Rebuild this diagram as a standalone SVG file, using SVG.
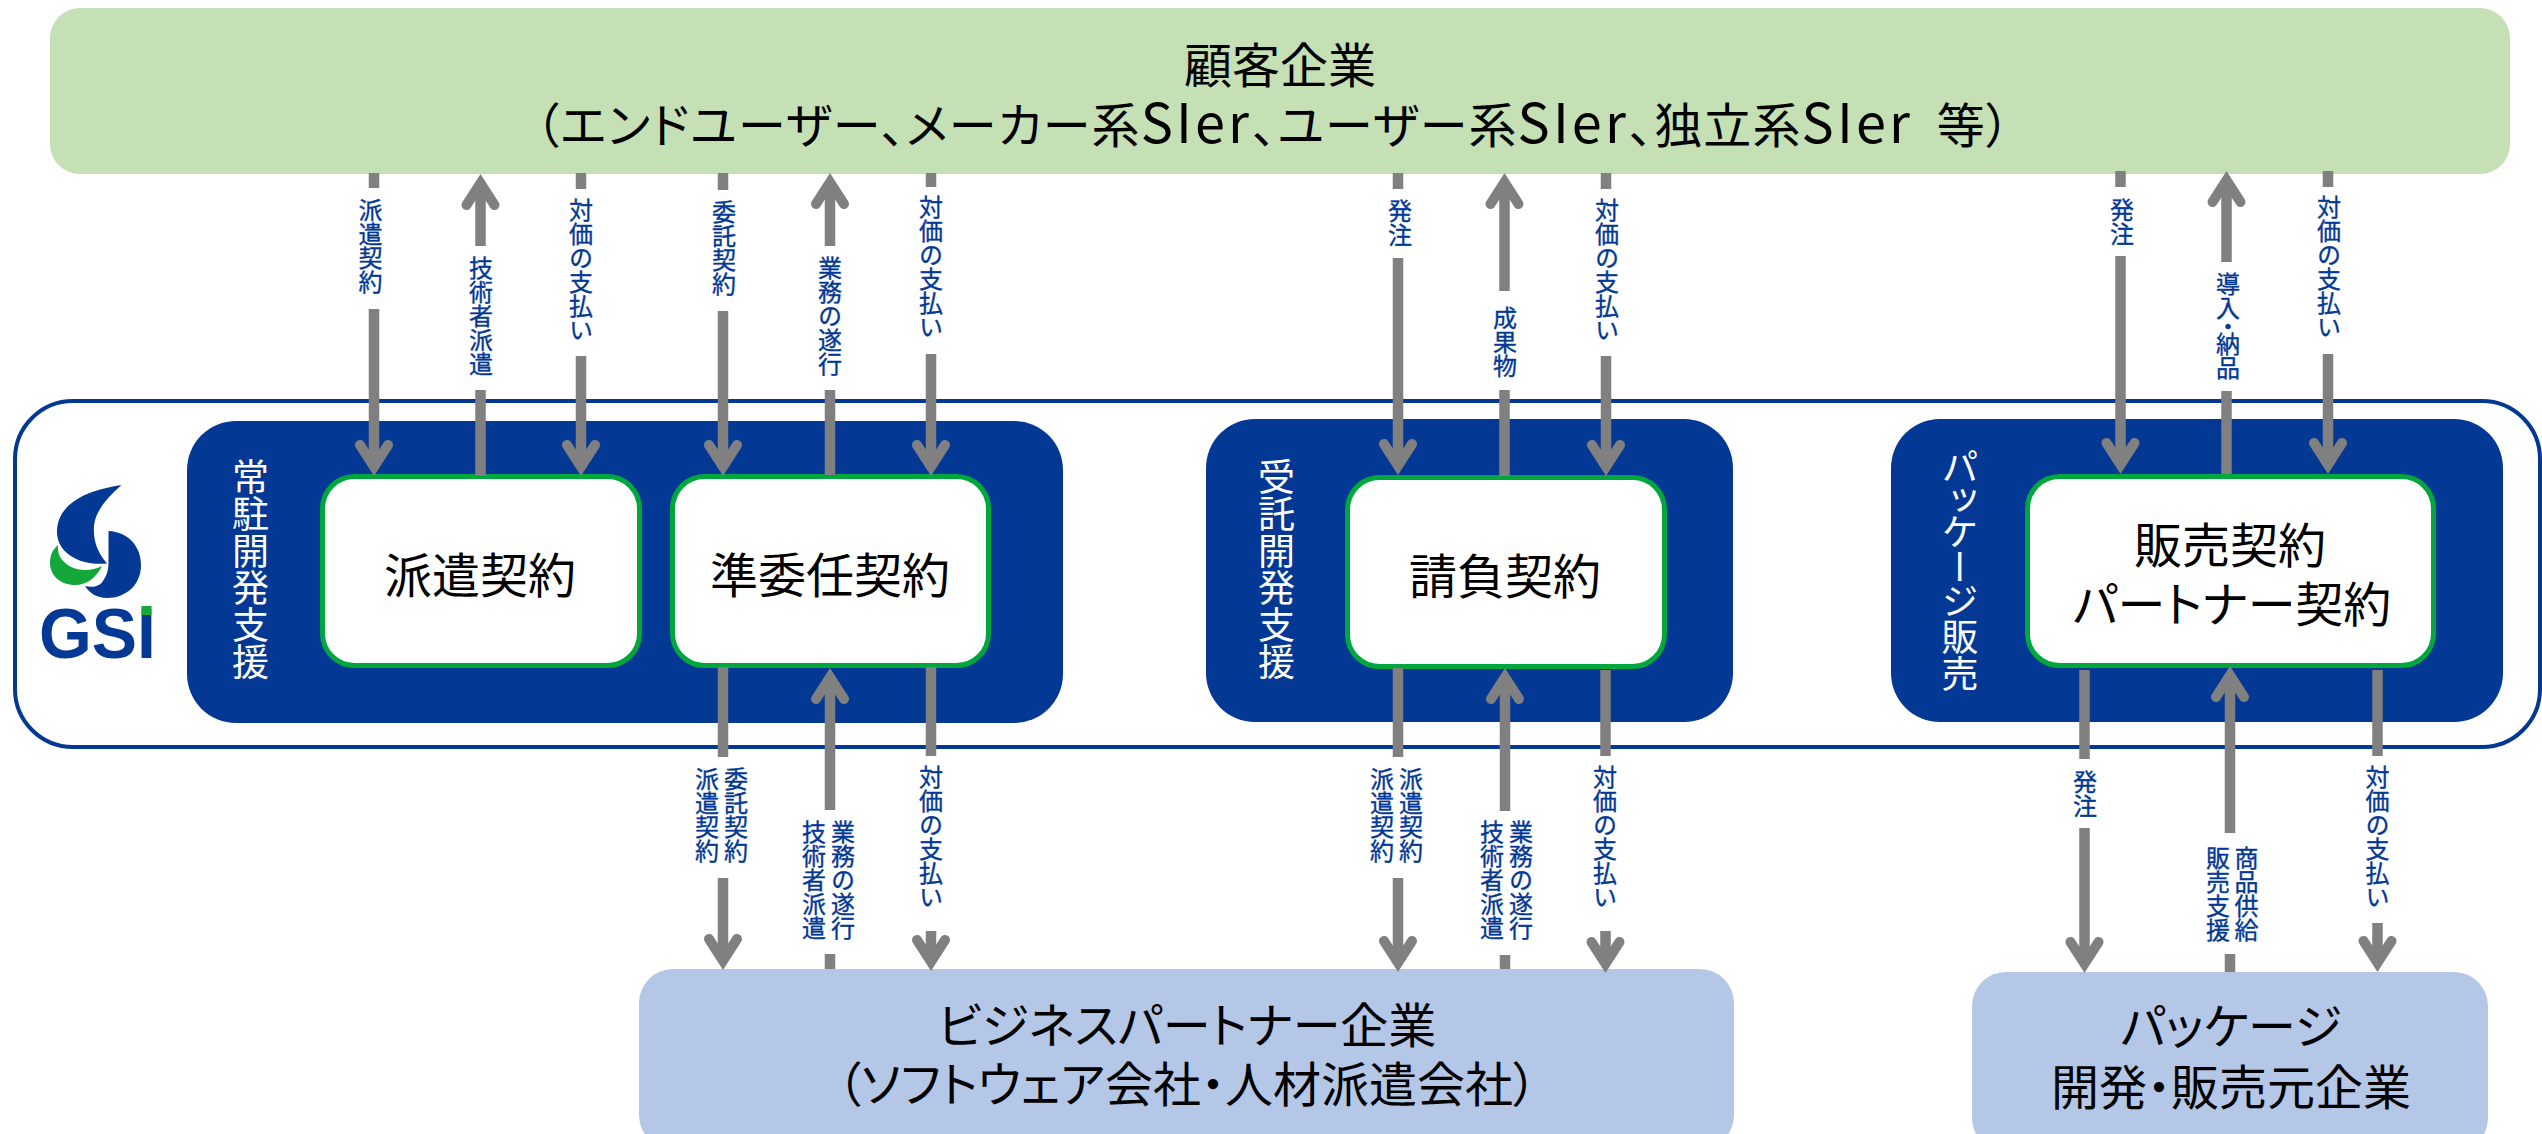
<svg xmlns="http://www.w3.org/2000/svg" width="2542" height="1134" viewBox="0 0 2542 1134">
<style>
text{font-family:"Noto Sans CJK JP","Noto Sans",sans-serif}
.t{font-size:48px;fill:#000;text-anchor:middle;font-feature-settings:"palt"}
.si{font-size:54px;letter-spacing:2px}
.side{font-size:37px;fill:#fff;writing-mode:vertical-rl;text-anchor:middle}
.l{font-size:24px;fill:#033894;stroke:#033894;stroke-width:.35px;writing-mode:vertical-rl;text-anchor:middle}
.vp{font-feature-settings:"vpal"}
.panel{fill:#033894}
.box{fill:#fff;stroke:#00A73C;stroke-width:5}
.c{fill:none;stroke:#808080;stroke-width:10.5;marker-end:url(#head)}
.logo{font-weight:700;font-size:70px;fill:#033894;font-family:"Liberation Sans",sans-serif}
</style>
<defs>
<marker id="head" markerUnits="userSpaceOnUse" markerWidth="44" markerHeight="46" refX="28" refY="23" orient="auto">
<path d="M7 9 L28.7 23 L7 37" fill="none" stroke="#808080" stroke-width="10" stroke-linecap="round" stroke-linejoin="miter"/>
</marker>
</defs>
<rect width="2542" height="1134" fill="#fff"/>
<g id="gsi-frame">
<rect x="15" y="401" width="2525" height="346" rx="58" ry="58" fill="#fff" stroke="#033894" stroke-width="4"/>
</g>
<g id="gsi-logo">
<path fill="#033894" d="M121.5 485 C88 490 57 503 57 532 C57 552 78 566 107 563.5 C97 552 93 540 94 526 C95 512 106 499 121.5 485Z"/>
<path fill="#033894" d="M108.5 531 C128 532 141 546 141 565 C141 585 126 598 107 598 C97 598 89 593 85 586 C93 588 100 586 103 581 C107 575 108.5 570 108.5 562Z"/>
<path fill="#14A83B" d="M58 545 C52 550 50 556 50 563 C50 576 61 585 75 585 C87 585 97 577 102 566 C92 571 80 571 71 567 C62 562 57 555 58 545Z"/>
<text class="logo" x="39" y="658" textLength="117" lengthAdjust="spacingAndGlyphs">GSI</text>
<rect x="141.5" y="606" width="10" height="9" fill="#14A83B"/>
</g>
<g id="customer">
<rect x="50" y="8" width="2460" height="166" rx="30" ry="30" fill="#C5E0B4"/>
<text class="t" x="1280" y="83">顧客企業</text>
<text class="t" x="1272.5" y="143" xml:space="preserve" textLength="1475" lengthAdjust="spacing">（エンドユーザー、メーカー系<tspan class="si">SIer</tspan>、ユーザー系<tspan class="si">SIer</tspan>、独立系<tspan class="si">SIer</tspan>  等）</text>
</g>
<g id="panel-onsite">
<rect class="panel" x="187" y="421" width="876" height="302" rx="49" ry="49"/>
<text class="side" x="250.5" y="569">常駐開発支援</text>
</g>
<g id="panel-contract">
<rect class="panel" x="1206" y="419" width="527" height="303" rx="49" ry="49"/>
<text class="side" x="1276.5" y="569">受託開発支援</text>
</g>
<g id="panel-package">
<rect class="panel" x="1891" y="419" width="612" height="303" rx="49" ry="49"/>
<text class="side vp" x="1960" y="571">パッケージ販売</text>
</g>
<g id="node-haken">
<rect class="box" x="322.5" y="476.5" width="317" height="189" rx="32" ry="32"/>
<text class="t" x="480" y="593">派遣契約</text>
</g>
<g id="node-juninin">
<rect class="box" x="672.5" y="476.5" width="316" height="189" rx="32" ry="32"/>
<text class="t" x="830" y="593">準委任契約</text>
</g>
<g id="node-ukeoi">
<rect class="box" x="1347.5" y="477.5" width="317" height="189" rx="32" ry="32"/>
<text class="t" x="1505" y="594">請負契約</text>
</g>
<g id="node-hanbai">
<rect class="box" x="2027.5" y="476.5" width="406" height="189" rx="32" ry="32"/>
<text class="t" x="2230" y="563">販売契約</text>
<text class="t" x="2232" y="622">パートナー契約</text>
</g>
<g id="partner">
<rect x="639" y="969" width="1095" height="180" rx="34" ry="34" fill="#B4C7E7"/>
<text class="t" x="1187" y="1043">ビジネスパートナー企業</text>
<text class="t" x="1187" y="1102">（ソフトウェア会社・人材派遣会社）</text>
</g>
<g id="vendor">
<rect x="1972" y="972" width="516" height="180" rx="34" ry="34" fill="#B4C7E7"/>
<text class="t" x="2231" y="1044">パッケージ</text>
<text class="t" x="2231" y="1105">開発・販売元企業</text>
</g>
<g id="connectors">
<path class="c" d="M374 173V188M374 309V466"/>
<path class="c" d="M480.5 476V390M480.5 246V184"/>
<path class="c" d="M581 173V189M581 356V466"/>
<path class="c" d="M723 173V190M723 311V466"/>
<path class="c" d="M830 475V390M830 246V183"/>
<path class="c" d="M931 173V187M931 354V466"/>
<path class="c" d="M1398 173V189M1398 258V465"/>
<path class="c" d="M1504.5 476V390M1504.5 291V183"/>
<path class="c" d="M1606 173V189M1606 356V466"/>
<path class="c" d="M2120.5 171V187M2120.5 256V464"/>
<path class="c" d="M2226.5 474V391M2226.5 262V181"/>
<path class="c" d="M2328 171V187M2328 354V464"/>
<path class="c" d="M723 667V757M723 878V960"/>
<path class="c" d="M830 969V954M830 810V678"/>
<path class="c" d="M931 667V756M931 931V961"/>
<path class="c" d="M1398 668V757M1398 878V962"/>
<path class="c" d="M1505 969V955M1505 811V678"/>
<path class="c" d="M1605.5 670V756M1605.5 931V963"/>
<path class="c" d="M2084.5 670V759M2084.5 828V963"/>
<path class="c" d="M2230 972V954M2230 833V676"/>
<path class="c" d="M2377.5 670V756M2377.5 923V962"/>
<g id="connector-labels">
<text class="l" x="370.5" y="246">派遣契約</text>
<text class="l" x="481" y="316">技術者派遣</text>
<text class="l" x="581" y="270">対価の支払い</text>
<text class="l" x="724" y="248">委託契約</text>
<text class="l" x="830" y="316">業務の遂行</text>
<text class="l" x="931" y="267">対価の支払い</text>
<text class="l" x="1400" y="223">発注</text>
<text class="l" x="1505" y="342">成果物</text>
<text class="l" x="1607" y="270">対価の支払い</text>
<text class="l" x="2122" y="222">発注</text>
<text class="l vp" x="2228" y="326">導入・納品</text>
<text class="l" x="2329" y="267">対価の支払い</text>
<text class="l" x="736" y="815">委託契約</text>
<text class="l" x="707" y="815">派遣契約</text>
<text class="l" x="843" y="880">業務の遂行</text>
<text class="l" x="814" y="880">技術者派遣</text>
<text class="l" x="931" y="837">対価の支払い</text>
<text class="l" x="1411" y="815">派遣契約</text>
<text class="l" x="1382" y="815">派遣契約</text>
<text class="l" x="1521" y="880">業務の遂行</text>
<text class="l" x="1492" y="880">技術者派遣</text>
<text class="l" x="1605" y="837">対価の支払い</text>
<text class="l" x="2085" y="794">発注</text>
<text class="l" x="2246.5" y="894">商品供給</text>
<text class="l" x="2218" y="894">販売支援</text>
<text class="l" x="2377.5" y="837">対価の支払い</text>
</g>
</g>
</svg>
